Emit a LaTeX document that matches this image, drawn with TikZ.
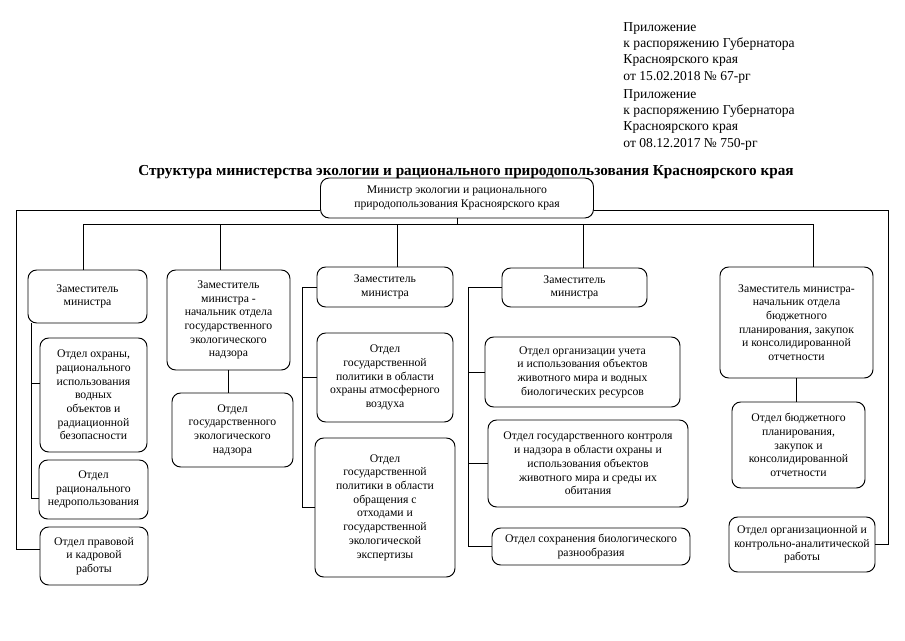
\documentclass[tikz,border=0pt]{standalone}
\usepackage{fontspec}
\setmainfont{Liberation Serif}
\begin{document}
\begin{tikzpicture}[x=0.3mm,y=-0.3mm,line width=0.8pt,
  box/.style={draw,rounded corners=2.6mm,align=center,inner sep=1pt,
    font=\fontsize{10}{11.7}\selectfont},
  sz/.style 2 args={minimum width=#1*0.3mm,minimum height=#2*0.3mm}]
\useasboundingbox (0,0) rectangle (905,640);

% header
\node[anchor=north west,inner sep=0,align=left,font=\fontsize{11.6}{13.9}\selectfont] (app1) at (623,22)
  {Приложение\\к распоряжению Губернатора\\Красноярского края\\от 15.02.2018 № 67-рг};
\node[anchor=north west,inner sep=0,align=left,font=\fontsize{11.6}{13.9}\selectfont] (app2) at (623,89)
  {Приложение\\к распоряжению Губернатора\\Красноярского края\\от 08.12.2017 № 750-рг};
\node[font=\fontsize{13}{15}\bfseries] (title) at (466,172)
  {Структура министерства экологии и рационального природопользования Красноярского края};

\node[box,sz={273}{40}] (min) at (457,198) {Министр экологии и рационального\\природопользования Красноярского края};

% deputies
\node[box,sz={119}{53}] (dep1) at (87.5,296.5) {Заместитель\\министра};
\node[box,sz={123}{100}] (dep2) at (228.5,320) {Заместитель\\министра -\\начальник отдела\\государственного\\экологического\\надзора};
\node[box,sz={136}{40}] (dep3) at (385,287) {Заместитель\\министра};
\node[box,sz={145}{39}] (dep4) at (574.5,287.5) {Заместитель\\министра};
\node[box,sz={153}{111}] (dep5) at (796.5,322.5) {Заместитель министра-\\начальник отдела\\бюджетного\\планирования, закупок\\и консолидированной\\отчетности};

% departments
\node[box,sz={107}{114}] (d11) at (93.5,395) {Отдел охраны,\\рационального\\использования\\водных\\объектов и\\радиационной\\безопасности};
\node[box,sz={109}{59}] (d12) at (93.5,489.5) {Отдел\\рационального\\недропользования};
\node[box,sz={108}{58}] (d13) at (94,556) {Отдел правовой\\и кадровой\\работы};
\node[box,sz={121}{74}] (d21) at (232.5,430) {Отдел\\государственного\\экологического\\надзора};
\node[box,sz={136}{89}] (d31) at (385,377.5) {Отдел\\государственной\\политики в области\\охраны атмосферного\\воздуха};
\node[box,sz={140}{139}] (d32) at (385,507.5) {Отдел\\государственной\\политики в области\\обращения с\\отходами и\\государственной\\экологической\\экспертизы};
\node[box,sz={195}{70}] (d41) at (582.5,372) {Отдел организации учета\\и использования объектов\\животного мира и водных\\биологических ресурсов};
\node[box,sz={200}{87}] (d42) at (588,463.5) {Отдел государственного контроля\\и надзора в области охраны и\\использования объектов\\животного мира и среды их\\обитания};
\node[box,sz={198}{37}] (d43) at (591,546.5) {Отдел сохранения биологического\\разнообразия};
\node[box,sz={133}{86}] (d51) at (798.5,445) {Отдел бюджетного\\планирования,\\закупок и\\консолидированной\\отчетности};
\node[box,sz={146}{55}] (d52) at (802,544.5) {Отдел организационной и\\контрольно-аналитической\\работы};

% lines
\coordinate (top) at (0,210);
\coordinate (s0) at (16,0);
\coordinate (s6) at (888,0);
\coordinate (b1) at (83,224);
\coordinate (b2) at (220,224);
\coordinate (b3) at (397,224);
\coordinate (b4) at (583,224);
\coordinate (b5) at (813,224);
\coordinate (s1) at (31,0);
\coordinate (s3) at (302,0);
\coordinate (s4) at (468,0);

\draw (min.south) -- (min.south |- b1);
\draw (b1) -- (b5);
\foreach \b/\d in {b1/dep1,b2/dep2,b3/dep3,b4/dep4,b5/dep5}
  \draw (\b) -- (\b |- \d.north);

\draw (min.west |- top) -- (s0 |- top) |- (d13.west |- 0,549);
\draw (min.east |- top) -- (s6 |- top) |- (d52.east);

\draw (dep1.south -| s1) |- (d12.west |- 0,498);
\draw (d11.west |- 0,383) -- (s1 |- 0,383);
\draw (dep2.south) -- (dep2.south |- d21.north);
\draw (dep3.west) -- (dep3.west -| s3) |- (d32.west);
\draw (d31.west) -- (d31.west -| s3);
\draw (dep4.west) -- (dep4.west -| s4) |- (d43.west);
\draw (d41.west) -- (d41.west -| s4);
\draw (d42.west) -- (d42.west -| s4);
\draw (dep5.south) -- (dep5.south |- d51.north);
\end{tikzpicture}
\end{document}
